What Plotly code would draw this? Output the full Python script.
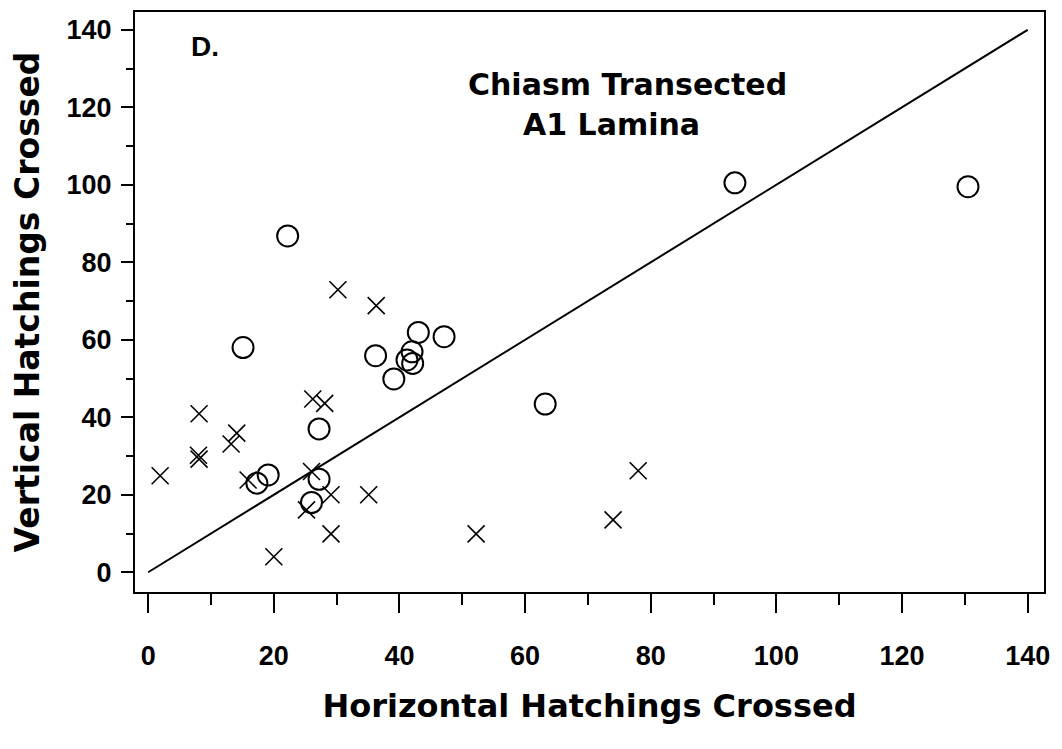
import plotly.graph_objects as go

# Circles (open markers)
circle_x = [93.4, 130.5, 22.2, 15.1, 47.1, 43.0, 36.2, 39.1, 41.2, 42.0, 42.1, 63.2, 27.2, 19.1, 17.3, 27.2, 26.0]
circle_y = [100.5, 99.5, 86.8, 58.0, 60.8, 61.9, 55.9, 49.9, 54.8, 56.9, 53.9, 43.4, 37.0, 25.1, 23.0, 24.0, 18.0]

# Crosses
cross_x = [30.2, 36.3, 8.1, 14.1, 13.2, 8.0, 8.1, 1.9, 15.9, 26.2, 28.1, 26.0, 29.1, 25.2, 35.1, 29.1, 20.0, 52.2, 74.0, 78.0]
cross_y = [72.9, 68.8, 40.9, 35.9, 33.1, 30.2, 29.2, 24.9, 23.8, 44.7, 43.6, 26.0, 20.0, 16.1, 20.0, 9.9, 4.0, 9.9, 13.5, 26.2]

# Identity line
line_x = [0, 140]
line_y = [0, 140]

tick_vals = [0, 20, 40, 60, 80, 100, 120, 140]

FONT = "Liberation Sans, Arial, sans-serif"
WIDE = "DejaVu Sans, Liberation Sans, sans-serif"

fig = go.Figure()
fig.add_trace(go.Scatter(x=line_x, y=line_y, mode="lines",
                         line=dict(color="black", width=2), showlegend=False))
fig.add_trace(go.Scatter(x=cross_x, y=cross_y, mode="markers",
                         marker=dict(symbol="x-thin", size=17, color="black",
                                     line=dict(color="black", width=1.6)),
                         showlegend=False))
fig.add_trace(go.Scatter(x=circle_x, y=circle_y, mode="markers",
                         marker=dict(symbol="circle-open", size=21, color="black",
                                     line=dict(color="black", width=2)),
                         showlegend=False))

axis_common = dict(showgrid=False, zeroline=False, showline=True, mirror=True,
                   linecolor="black", linewidth=2, ticks="outside", tickcolor="black",
                   tickwidth=2, tickvals=tick_vals, automargin=False,
                   tickfont=dict(family=FONT, size=27, color="black", weight="bold"))

fig.update_xaxes(range=[-2.1, 142.6], ticklen=19, ticklabelstandoff=20,
                 minor=dict(dtick=10, tick0=0, ticks="outside", ticklen=11, tickwidth=2, tickcolor="black", showgrid=False),
                 title=dict(text="Horizontal Hatchings Crossed", standoff=24,
                            font=dict(family=WIDE, size=32, color="black", weight="bold")),
                 **axis_common)
fig.update_yaxes(range=[-5.1, 144.6], ticklen=12, ticklabelstandoff=4,
                 minor=dict(dtick=10, tick0=0, ticks="outside", ticklen=7, tickwidth=2, tickcolor="black", showgrid=False),
                 title=dict(text="Vertical Hatchings Crossed", standoff=22,
                            font=dict(family=WIDE, size=33, color="black", weight="bold")),
                 **axis_common)

fig.add_annotation(x=6.5, y=135.6, xanchor="left", yanchor="middle", text="D.", showarrow=False,
                   font=dict(family=FONT, size=28, color="black", weight="bold"))
fig.add_annotation(x=76.3, y=126.0, xanchor="center", yanchor="middle", text="Chiasm Transected", showarrow=False,
                   font=dict(family=WIDE, size=30, color="black", weight="bold"))
fig.add_annotation(x=73.8, y=115.5, xanchor="center", yanchor="middle", text="A1 Lamina", showarrow=False,
                   font=dict(family=WIDE, size=30, color="black", weight="bold"))

fig.update_layout(width=1062, height=749, plot_bgcolor="white", paper_bgcolor="white",
                  margin=dict(l=127, r=26, t=4, b=165))

fig.write_html("out.html")
